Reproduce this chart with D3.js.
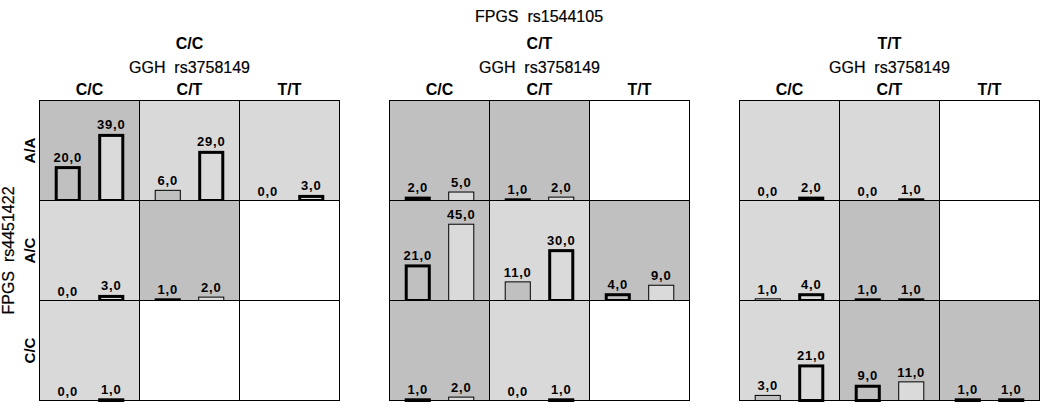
<!DOCTYPE html>
<html>
<head>
<meta charset="utf-8">
<script src="https://cdn.jsdelivr.net/npm/d3@7"></script>
<style>
  body { margin: 0; background: #fff; }
  svg text { font-family: Arial, 'Liberation Sans', sans-serif; white-space: pre; }
</style>
</head>
<body>
<div id="chart"></div>
<script>
// FPGS rs1544105 panels, GGH rs3758149 columns, FPGS rs4451422 rows
const panelGenotypes = ['C/C', 'C/T', 'T/T'];
const colGenotypes = ['C/C', 'C/T', 'T/T'];
const rowGenotypes = ['A/A', 'A/C', 'C/C'];

// cell group per [panel][row][col]: 'dark', 'light' or 'none' (no data)
const cellGroup = [
  [['dark', 'light', 'light'], ['light', 'dark', 'none'], ['light', 'none', 'none']],
  [['dark', 'dark', 'none'], ['dark', 'light', 'dark'], ['dark', 'light', 'none']],
  [['light', 'light', 'none'], ['light', 'dark', 'none'], ['light', 'dark', 'dark']]
];

// first bar values per [panel][row][col], null = empty cell
const firstValues = [
  [[20, 6, 0], [0, 1, null], [0, null, null]],
  [[2, 1, null], [21, 11, 4], [1, 0, null]],
  [[0, 0, null], [1, 1, null], [3, 9, 1]]
];
// second bar values
const secondValues = [
  [[39, 29, 3], [3, 2, null], [1, null, null]],
  [[5, 2, null], [45, 30, 9], [2, 1, null]],
  [[2, 1, null], [4, 1, null], [21, 11, 1]]
];
// bars marked with a heavy outline
const firstMarked = [
  [[true, false, false], [false, true, false], [false, false, false]],
  [[true, true, false], [true, false, true], [true, false, false]],
  [[false, false, false], [false, true, false], [false, true, true]]
];
const secondMarked = [
  [[true, true, true], [true, false, false], [true, false, false]],
  [[false, false, false], [false, true, false], [false, true, false]],
  [[true, true, false], [true, true, false], [true, false, true]]
];

const width = 1049, height = 410;
const gridTop = 100.5, gridBottom = 400.5;

const svg = d3.select('#chart').append('svg')
  .attr('width', width).attr('height', height);

const panelScale = d3.scaleBand().domain(panelGenotypes)
  .range([39.5, 1039.5]).paddingInner(50 / 350);
const colScale = d3.scaleBand().domain(colGenotypes).range([0, panelScale.bandwidth()]);
const rowScale = d3.scaleBand().domain(rowGenotypes).range([gridTop, gridBottom]);
const barScale = d3.scaleBand().domain([0, 1]).range([0, colScale.bandwidth()])
  .paddingInner(0.4).paddingOuter(0.35);
const yScale = d3.scaleLinear().domain([0, 59]).range([0, rowScale.bandwidth()]);

const groupColor = d3.scaleOrdinal().domain(['dark', 'light', 'none'])
  .range(['#c0c0c0', '#d9d9d9', '#ffffff']);
const barColor = ['#c0c0c0', '#dadada'];

const fmt = d3.formatLocale({ decimal: ',', thousands: '.', grouping: [3], currency: ['', ''] }).format('.1f');

// titles
svg.append('text')
  .attr('x', 539).attr('y', 22)
  .attr('text-anchor', 'middle').attr('font-size', 16)
  .attr('stroke', '#000').attr('stroke-width', 0.2)
  .text('FPGS  rs1544105');

svg.append('text')
  .attr('transform', 'translate(14,' + ((gridTop + gridBottom) / 2) + ') rotate(-90)')
  .attr('text-anchor', 'middle').attr('font-size', 16)
  .attr('stroke', '#000').attr('stroke-width', 0.2)
  .text('FPGS  rs4451422');

svg.selectAll('text.rowLabel').data(rowGenotypes).enter().append('text')
  .attr('class', 'rowLabel')
  .attr('transform', (d) => 'translate(35,' + (rowScale(d) + rowScale.bandwidth() / 2) + ') rotate(-90)')
  .attr('text-anchor', 'middle').attr('font-size', 15).attr('font-weight', 'bold')
  .text((d) => d);

const panels = svg.selectAll('g.panel').data(panelGenotypes).enter().append('g')
  .attr('class', 'panel')
  .attr('transform', (d) => 'translate(' + panelScale(d) + ',0)');

panels.append('text')
  .attr('x', panelScale.bandwidth() / 2).attr('y', 49)
  .attr('text-anchor', 'middle').attr('font-size', 16).attr('font-weight', 'bold')
  .text((d) => d);

panels.append('text')
  .attr('x', panelScale.bandwidth() / 2).attr('y', 72.5)
  .attr('text-anchor', 'middle').attr('font-size', 16)
  .attr('stroke', '#000').attr('stroke-width', 0.2)
  .text('GGH  rs3758149');

panels.selectAll('text.colLabel').data(colGenotypes).enter().append('text')
  .attr('class', 'colLabel')
  .attr('x', (d) => colScale(d) + colScale.bandwidth() / 2).attr('y', 95)
  .attr('text-anchor', 'middle').attr('font-size', 16).attr('font-weight', 'bold')
  .text((d) => d);

// cells
const cells = panels.selectAll('g.cell')
  .data((d, p) => {
    const out = [];
    rowGenotypes.forEach((r, ri) => {
      colGenotypes.forEach((c, ci) => {
        out.push({ p, r, c, ri, ci, group: cellGroup[p][ri][ci] });
      });
    });
    return out;
  })
  .enter().append('g')
  .attr('class', 'cell')
  .attr('transform', (d) => 'translate(' + colScale(d.c) + ',' + rowScale(d.r) + ')');

cells.append('rect')
  .attr('width', colScale.bandwidth()).attr('height', rowScale.bandwidth())
  .attr('fill', (d) => groupColor(d.group));

const bars = cells.selectAll('g.bar')
  .data((d) => {
    const v1 = firstValues[d.p][d.ri][d.ci];
    const v2 = secondValues[d.p][d.ri][d.ci];
    if (v1 === null) return [];
    return [
      { i: 0, value: v1, marked: firstMarked[d.p][d.ri][d.ci] },
      { i: 1, value: v2, marked: secondMarked[d.p][d.ri][d.ci] }
    ];
  })
  .enter().append('g').attr('class', 'bar');

const h = rowScale.bandwidth();
bars.filter((d) => d.value > 0).append('rect')
  .attr('x', (d) => barScale(d.i) + (d.marked ? 1.5 : 0.5))
  .attr('y', (d) => h - yScale(d.value) + (d.marked ? 1 : 0))
  .attr('width', (d) => barScale.bandwidth() - (d.marked ? 3 : 1))
  .attr('height', (d) => Math.max(0.5, yScale(d.value) - (d.marked ? 1 : 0)))
  .attr('fill', (d) => barColor[d.i])
  .attr('stroke', '#000')
  .attr('stroke-width', (d) => (d.marked ? 3 : 1));

bars.append('text')
  .attr('x', (d) => barScale(d.i) + barScale.bandwidth() / 2)
  .attr('y', (d) => h - yScale(d.value) - 5)
  .attr('text-anchor', 'middle').attr('font-size', 13).attr('font-weight', 'bold')
  .attr('letter-spacing', 0.8)
  .text((d) => fmt(d.value));

// grid lines
cells.append('rect')
  .attr('width', colScale.bandwidth()).attr('height', rowScale.bandwidth())
  .attr('fill', 'none').attr('stroke', '#000').attr('stroke-width', 1);
</script>
</body>
</html>
